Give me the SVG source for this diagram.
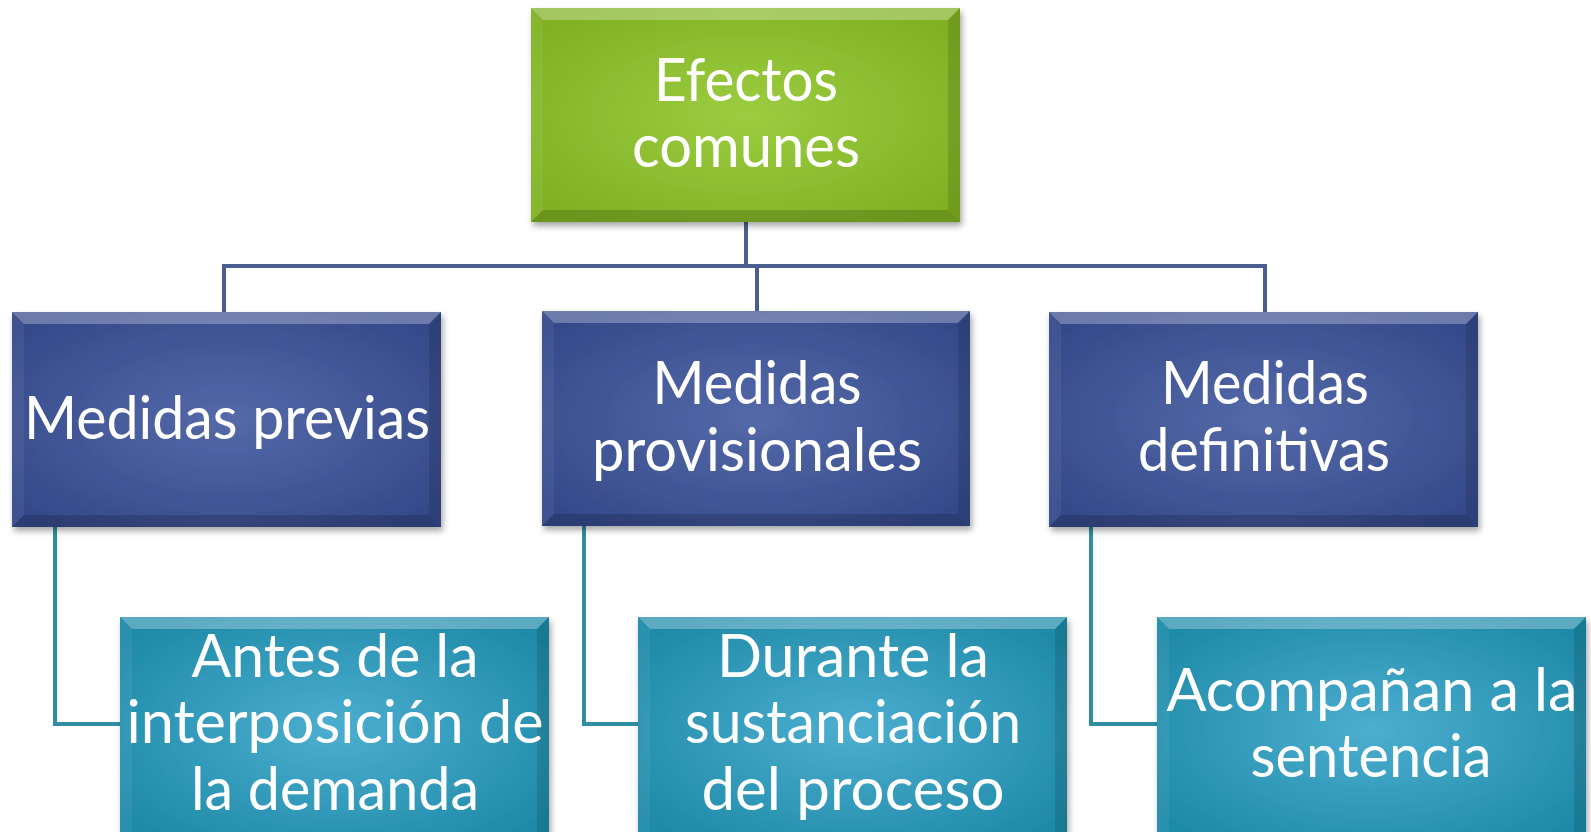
<svg xmlns="http://www.w3.org/2000/svg" width="1591" height="832" viewBox="0 0 1591 832">
<style>
.t{font-family:Lato,"Open Sans","Liberation Sans",sans-serif;font-size:60px;fill:#ffffff;text-anchor:middle}
.hl{fill:#ffffff;opacity:0.28}
.sl{fill:#ffffff;opacity:0.06}
.dr{fill:#000000;opacity:0.12}
.db{fill:#000000;opacity:0.16}
.c1{fill:none;stroke:#4a5e8f;stroke-width:4}
.c2{fill:none;stroke:#2f8ea2;stroke-width:4}
</style>
<defs>
<radialGradient id="gG" cx="0.5" cy="0.5" r="0.62"><stop offset="0" stop-color="#9ccd40"/><stop offset="1" stop-color="#80b124"/></radialGradient>
<radialGradient id="gB" cx="0.5" cy="0.5" r="0.62"><stop offset="0" stop-color="#5569a9"/><stop offset="1" stop-color="#354a8a"/></radialGradient>
<radialGradient id="gT" cx="0.5" cy="0.5" r="0.62"><stop offset="0" stop-color="#4caed0"/><stop offset="1" stop-color="#1f8aa8"/></radialGradient>
<filter id="sh" x="-5%" y="-5%" width="112%" height="115%"><feDropShadow dx="2" dy="4" stdDeviation="3" flood-color="#000" flood-opacity="0.35"/></filter>
</defs>
<g id="connectors">
<polyline class="c1" points="746,222 746,266"/>
<polyline class="c1" points="224,312 224,266 1265,266 1265,312"/>
<polyline class="c1" points="757,266 757,311"/>
<polyline class="c2" points="55,527 55,724 120,724"/>
<polyline class="c2" points="584,526 584,724 638,724"/>
<polyline class="c2" points="1091,527 1091,724 1157,724"/>
</g>
<g id="n-efectos">
<rect x="531" y="8" width="429" height="214" fill="url(#gG)" filter="url(#sh)"/>
<path class="hl" d="M531 8H960L948 20H543Z"/>
<path class="sl" d="M531 8L543 20V210L531 222Z"/>
<path class="dr" d="M960 8V222L948 210V20Z"/>
<path class="db" d="M531 222H960L948 210H543Z"/>
<text class="t" x="746" y="101" textLength="184" lengthAdjust="spacingAndGlyphs">Efectos</text>
<text class="t" x="746" y="167" textLength="228" lengthAdjust="spacingAndGlyphs">comunes</text>
</g>
<g id="n-previas">
<rect x="12" y="312" width="429" height="215" fill="url(#gB)" filter="url(#sh)"/>
<path class="hl" d="M12 312H441L429 324H24Z"/>
<path class="sl" d="M12 312L24 324V515L12 527Z"/>
<path class="dr" d="M441 312V527L429 515V324Z"/>
<path class="db" d="M12 527H441L429 515H24Z"/>
<text class="t" x="227" y="439" textLength="406" lengthAdjust="spacingAndGlyphs">Medidas previas</text>
</g>
<g id="n-provisionales">
<rect x="542" y="311" width="428" height="215" fill="url(#gB)" filter="url(#sh)"/>
<path class="hl" d="M542 311H970L958 323H554Z"/>
<path class="sl" d="M542 311L554 323V514L542 526Z"/>
<path class="dr" d="M970 311V526L958 514V323Z"/>
<path class="db" d="M542 526H970L958 514H554Z"/>
<text class="t" x="757" y="404" textLength="209" lengthAdjust="spacingAndGlyphs">Medidas</text>
<text class="t" x="757" y="471" textLength="330" lengthAdjust="spacingAndGlyphs">provisionales</text>
</g>
<g id="n-definitivas">
<rect x="1049" y="312" width="429" height="215" fill="url(#gB)" filter="url(#sh)"/>
<path class="hl" d="M1049 312H1478L1466 324H1061Z"/>
<path class="sl" d="M1049 312L1061 324V515L1049 527Z"/>
<path class="dr" d="M1478 312V527L1466 515V324Z"/>
<path class="db" d="M1049 527H1478L1466 515H1061Z"/>
<text class="t" x="1265" y="404" textLength="208" lengthAdjust="spacingAndGlyphs">Medidas</text>
<text class="t" x="1264" y="471" textLength="252" lengthAdjust="spacingAndGlyphs">definitivas</text>
</g>
<g id="n-antes">
<rect x="120" y="617" width="429" height="225" fill="url(#gT)" filter="url(#sh)"/>
<path class="hl" d="M120 617H549L537 629H132Z"/>
<path class="sl" d="M120 617L132 629V842L120 842Z"/>
<path class="dr" d="M549 617V842L537 842V629Z"/>
<text class="t" x="335" y="677" textLength="287" lengthAdjust="spacingAndGlyphs">Antes de la</text>
<text class="t" x="335" y="743" textLength="417" lengthAdjust="spacingAndGlyphs">interposición de</text>
<text class="t" x="335" y="810" textLength="288" lengthAdjust="spacingAndGlyphs">la demanda</text>
</g>
<g id="n-durante">
<rect x="638" y="617" width="429" height="225" fill="url(#gT)" filter="url(#sh)"/>
<path class="hl" d="M638 617H1067L1055 629H650Z"/>
<path class="sl" d="M638 617L650 629V842L638 842Z"/>
<path class="dr" d="M1067 617V842L1055 842V629Z"/>
<text class="t" x="853" y="677" textLength="272" lengthAdjust="spacingAndGlyphs">Durante la</text>
<text class="t" x="853" y="743" textLength="336" lengthAdjust="spacingAndGlyphs">sustanciación</text>
<text class="t" x="853" y="810" textLength="303" lengthAdjust="spacingAndGlyphs">del proceso</text>
</g>
<g id="n-acompanan">
<rect x="1157" y="617" width="429" height="225" fill="url(#gT)" filter="url(#sh)"/>
<path class="hl" d="M1157 617H1586L1574 629H1169Z"/>
<path class="sl" d="M1157 617L1169 629V842L1157 842Z"/>
<path class="dr" d="M1586 617V842L1574 842V629Z"/>
<text class="t" x="1372" y="711" textLength="411" lengthAdjust="spacingAndGlyphs">Acompañan a la</text>
<text class="t" x="1371" y="777" textLength="241" lengthAdjust="spacingAndGlyphs">sentencia</text>
</g>
</svg>
